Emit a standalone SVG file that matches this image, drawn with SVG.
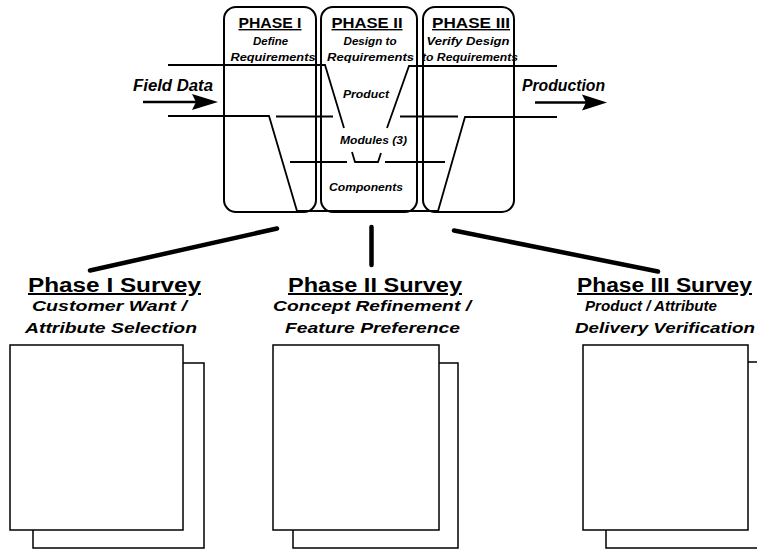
<svg xmlns="http://www.w3.org/2000/svg" width="757" height="550" viewBox="0 0 757 550">
  <style>
    text { font-family: "Liberation Sans", Arial, sans-serif; fill: #000; }
    .ph { font-size: 14px; font-weight: bold; text-decoration: underline; text-anchor: middle; }
    .sub { font-size: 10.5px; font-weight: bold; font-style: italic; text-anchor: middle; }
    .lvl { font-size: 10px; font-weight: bold; font-style: italic; text-anchor: middle; }
    .flow { font-size: 16px; font-weight: bold; font-style: italic; }
    .st { font-size: 20px; font-weight: bold; text-decoration: underline; }
    .ss { font-size: 14.5px; font-weight: bold; font-style: italic; }
    .panel { fill: none; stroke: #000; stroke-width: 2; }
    .vline { fill: none; stroke: #000; stroke-width: 1.8; stroke-linejoin: miter; }
    .shaft { stroke: #000; stroke-width: 2.5; }
    .head { fill: #000; }
    .link { stroke: #000; stroke-width: 4.5; stroke-linecap: round; }
    .sheet { fill: #fff; stroke: #000; stroke-width: 1.5; }
  </style>

  <rect x="0" y="0" width="757" height="550" fill="#fff"/>

  <!-- V-model level lines -->
  <g id="levels">
    <polyline class="vline" points="168,65 325,65 344,128"/>
    <polyline class="vline" points="387,128 409,66 557,66"/>
    <polyline class="vline" points="168,116 269,116 297,211 438,211 465,117 557,117"/>
    <line class="vline" x1="276" y1="116.5" x2="333" y2="116.5"/>
    <line class="vline" x1="400" y1="116.5" x2="458" y2="116.5"/>
    <line class="vline" x1="290" y1="162" x2="347" y2="162"/>
    <polyline class="vline" points="352,152 355,162 378,162 381,153"/>
    <line class="vline" x1="385" y1="162" x2="445" y2="162"/>
  </g>

  <!-- Phase panels -->
  <g id="phase1">
    <rect class="panel" x="224" y="7" width="92" height="205" rx="12"/>
    <text class="ph" x="270" y="28" textLength="63" lengthAdjust="spacingAndGlyphs">PHASE I</text>
    <text class="sub" x="270.5" y="45" textLength="35" lengthAdjust="spacingAndGlyphs">Define</text>
    <text class="sub" x="273" y="61" textLength="85" lengthAdjust="spacingAndGlyphs">Requirements</text>
  </g>
  <g id="phase2">
    <rect class="panel" x="321" y="7" width="96" height="205" rx="12"/>
    <text class="ph" x="367" y="28" textLength="71" lengthAdjust="spacingAndGlyphs">PHASE II</text>
    <text class="sub" x="370" y="45" textLength="53" lengthAdjust="spacingAndGlyphs">Design to</text>
    <text class="sub" x="370.5" y="61" textLength="87" lengthAdjust="spacingAndGlyphs">Requirements</text>
    <text class="lvl" x="366" y="98" textLength="46" lengthAdjust="spacingAndGlyphs">Product</text>
    <text class="lvl" x="373.5" y="144" textLength="67" lengthAdjust="spacingAndGlyphs">Modules (3)</text>
    <text class="lvl" x="366" y="191" textLength="74" lengthAdjust="spacingAndGlyphs">Components</text>
  </g>
  <g id="phase3">
    <rect class="panel" x="423" y="7" width="91" height="205" rx="12"/>
    <text class="ph" x="471" y="28" textLength="78" lengthAdjust="spacingAndGlyphs">PHASE III</text>
    <text class="sub" x="468" y="45" textLength="83" lengthAdjust="spacingAndGlyphs">Verify Design</text>
    <text class="sub" x="470" y="61" textLength="96" lengthAdjust="spacingAndGlyphs">to Requirements</text>
  </g>

  <!-- Input / output flows -->
  <g id="field-data">
    <text class="flow" x="133" y="91" textLength="80" lengthAdjust="spacingAndGlyphs">Field Data</text>
    <line class="shaft" x1="143" y1="102" x2="198" y2="102"/>
    <polygon class="head" points="192,94 218,102 192,110 196,102"/>
  </g>
  <g id="production">
    <text class="flow" x="522" y="91" textLength="83" lengthAdjust="spacingAndGlyphs">Production</text>
    <line class="shaft" x1="535" y1="102.5" x2="588" y2="102.5"/>
    <polygon class="head" points="582,94.5 607,102.5 582,110.5 586,102.5"/>
  </g>

  <!-- Links from phases to surveys -->
  <g id="connectors">
    <line class="link" x1="277" y1="228.5" x2="90" y2="270.5"/>
    <line class="link" x1="371.5" y1="227" x2="371.5" y2="265"/>
    <line class="link" x1="454" y1="230.5" x2="658" y2="271.5"/>
  </g>

  <!-- Surveys -->
  <g id="survey1">
    <text class="st" x="28" y="292" textLength="173" lengthAdjust="spacingAndGlyphs">Phase I Survey</text>
    <text class="ss" x="32" y="311" textLength="155" lengthAdjust="spacingAndGlyphs">Customer Want /</text>
    <text class="ss" x="25" y="333" textLength="172" lengthAdjust="spacingAndGlyphs">Attribute Selection</text>
    <rect class="sheet" x="33" y="363" width="171" height="185"/>
    <rect class="sheet" x="10" y="345" width="173" height="185"/>
  </g>
  <g id="survey2">
    <text class="st" x="288" y="292" textLength="174" lengthAdjust="spacingAndGlyphs">Phase II Survey</text>
    <text class="ss" x="273" y="311" textLength="198" lengthAdjust="spacingAndGlyphs">Concept Refinement /</text>
    <text class="ss" x="285" y="333" textLength="175" lengthAdjust="spacingAndGlyphs">Feature Preference</text>
    <rect class="sheet" x="293" y="363" width="165" height="185"/>
    <rect class="sheet" x="273" y="345" width="166" height="185"/>
  </g>
  <g id="survey3">
    <text class="st" x="577" y="292" textLength="175" lengthAdjust="spacingAndGlyphs">Phase III Survey</text>
    <text class="ss" x="585" y="311" textLength="132" lengthAdjust="spacingAndGlyphs">Product / Attribute</text>
    <text class="ss" x="575" y="333" textLength="180" lengthAdjust="spacingAndGlyphs">Delivery Verification</text>
    <rect class="sheet" x="606" y="362" width="170" height="186"/>
    <rect class="sheet" x="583" y="345" width="165" height="185"/>
  </g>
</svg>
